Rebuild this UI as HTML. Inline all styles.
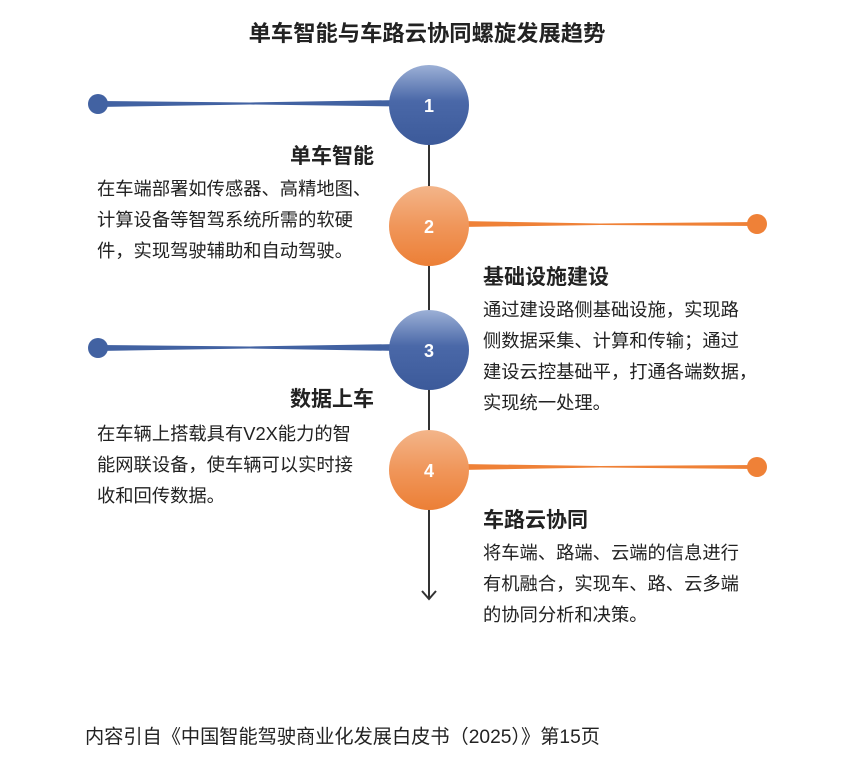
<!DOCTYPE html><html><head><meta charset="utf-8"><style>
body{margin:0;width:868px;height:762px;background:#fff;font-family:"Liberation Sans","Noto Sans CJK SC",sans-serif;color:#222;position:relative;overflow:hidden}
.t{position:absolute;font-size:18.3px;line-height:31px;white-space:nowrap}
.h{position:absolute;font-size:21px;font-weight:bold;white-space:nowrap}
</style></head><body>
<svg width="868" height="762" style="position:absolute;left:0;top:0">
<defs>
<linearGradient id="b" x1="0" y1="0" x2="0" y2="1"><stop offset="0" stop-color="#9cb0d6"/><stop offset="0.45" stop-color="#4a68a8"/><stop offset="1" stop-color="#3c5a9a"/></linearGradient>
<linearGradient id="o" x1="0" y1="0" x2="0" y2="1"><stop offset="0" stop-color="#f3b58a"/><stop offset="0.5" stop-color="#f0965a"/><stop offset="1" stop-color="#ec7f36"/></linearGradient>
</defs>
<line x1="429" y1="130" x2="429" y2="598" stroke="#333" stroke-width="2"/>
<polyline points="422,591 429,599 436,591" fill="none" stroke="#333" stroke-width="2"/>
<polygon points="98,101 98,107 250,104.5 400,106.5 400,100 250,102.5" fill="#4262a2"/>
<circle cx="98" cy="104" r="10" fill="#4262a2"/>
<polygon points="460,221 460,227 600,225 757,226 757,222 600,223.5" fill="#ef8137"/>
<circle cx="757" cy="224" r="10" fill="#ef8137"/>
<polygon points="98,345 98,351 250,348.5 400,351 400,344 250,346.5" fill="#4262a2"/>
<circle cx="98" cy="348" r="10" fill="#4262a2"/>
<polygon points="460,464 460,470 600,467.5 757,469 757,465 600,466" fill="#ef8137"/>
<circle cx="757" cy="467" r="10" fill="#ef8137"/>
<circle cx="429" cy="105" r="40" fill="url(#b)"/>
<circle cx="429" cy="226" r="40" fill="url(#o)"/>
<circle cx="429" cy="350" r="40" fill="url(#b)"/>
<circle cx="429" cy="470" r="40" fill="url(#o)"/>
<g font-family="Liberation Sans,sans-serif" font-weight="bold" font-size="18" fill="#fff" text-anchor="middle">
<text x="429" y="112">1</text><text x="429" y="233">2</text><text x="429" y="357">3</text><text x="429" y="477">4</text></g>
</svg>
<div class="h" style="left:0;width:854px;text-align:center;top:16px;font-size:22.3px">单车智能与车路云协同螺旋发展趋势</div>
<div class="h" style="right:494px;top:140px">单车智能</div>
<div class="t" style="left:97px;top:173px">在车端部署如传感器、高精地图、<br>计算设备等智驾系统所需的软硬<br>件，实现驾驶辅助和自动驾驶。</div>
<div class="h" style="left:483px;top:261px">基础设施建设</div>
<div class="t" style="left:483px;top:294px">通过建设路侧基础设施，实现路<br>侧数据采集、计算和传输；通过<br>建设云控基础平，打通各端数据，<br>实现统一处理。</div>
<div class="h" style="right:494px;top:383px">数据上车</div>
<div class="t" style="left:97px;top:418px">在车辆上搭载具有V2X能力的智<br>能网联设备，使车辆可以实时接<br>收和回传数据。</div>
<div class="h" style="left:483px;top:504px">车路云协同</div>
<div class="t" style="left:483px;top:537px">将车端、路端、云端的信息进行<br>有机融合，实现车、路、云多端<br>的协同分析和决策。</div>
<div class="t" style="left:85px;top:722px;font-size:19.2px">内容引自《中国智能驾驶商业化发展白皮书（2025）》第15页</div>
</body></html>
